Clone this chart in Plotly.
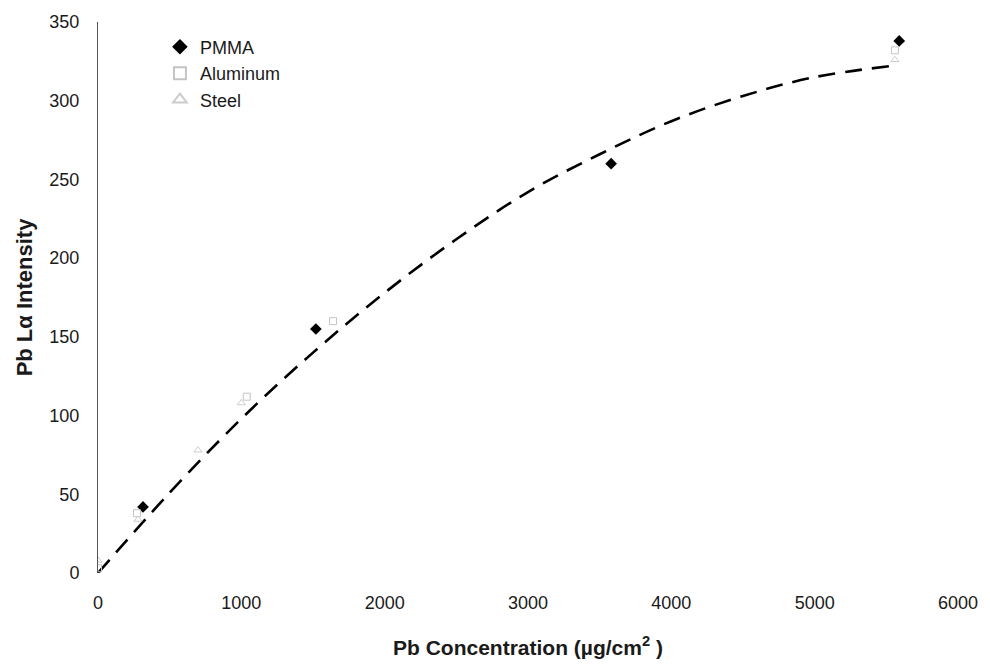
import plotly.graph_objects as go

# Measured points (Pb concentration in µg/cm², Pb Lα intensity)
pmma_x = [314, 1520, 3580, 5590]
pmma_y = [42, 155, 260, 338]

alum_x = [0, 272, 1038, 1640, 5560]
alum_y = [3, 38, 112, 160, 332]

steel_x = [0, 279, 697, 1000, 5560]
steel_y = [8, 34, 78, 108, 326]

# Calibration trend line
fit_x = [0, 500, 1000, 1500, 2000, 2500, 3000, 3500, 4000, 4500, 5000, 5530]
fit_y = [0, 51, 98, 140, 178, 212, 242, 266, 287, 303, 315, 322]

x_ticks = [0, 1000, 2000, 3000, 4000, 5000, 6000]
y_ticks = [0, 50, 100, 150, 200, 250, 300, 350]

font = "Liberation Sans, Arial, sans-serif"

fig = go.Figure()
fig.add_trace(go.Scatter(
    x=fit_x, y=fit_y, mode="lines", line_shape="spline", showlegend=False,
    line=dict(color="black", width=2.6, dash="17px,10px"), hoverinfo="skip"))
fig.add_trace(go.Scatter(
    x=pmma_x, y=pmma_y, mode="markers", name="PMMA", legendgroup="a",
    marker=dict(symbol="diamond", size=9, color="black")))
fig.add_trace(go.Scatter(
    x=alum_x, y=alum_y, mode="markers", name="Aluminum", legendgroup="b",
    marker=dict(symbol="square-open", size=7, color="#c4c4c4", line=dict(width=1))))
fig.add_trace(go.Scatter(
    x=steel_x, y=steel_y, mode="markers", name="Steel", legendgroup="c",
    marker=dict(symbol="triangle-up-open", size=7, color="#cccccc", line=dict(width=1))))

fig.update_layout(
    width=990, height=668,
    margin=dict(l=98, r=32, t=21, b=91),
    paper_bgcolor="white", plot_bgcolor="white",
    font=dict(family=font, size=18, color="#1a1a1a"),
    legend=dict(x=0.072, y=0.988, xanchor="left", yanchor="top",
                bgcolor="rgba(0,0,0,0)", font=dict(size=18),
                itemsizing="constant", tracegroupgap=0),
)
fig.update_xaxes(
    range=[0, 6000], tickvals=x_ticks, showgrid=False, zeroline=False,
    showline=False, ticks="", ticklabelstandoff=17,
    tickfont=dict(size=18),
    title=dict(text="<b>Pb Concentration (µg/cm<sup>2</sup> )</b>",
               font=dict(size=21), standoff=28))
fig.update_yaxes(
    range=[0, 350], tickvals=y_ticks, showgrid=False, zeroline=False,
    showline=True, linecolor="#555555", linewidth=1, ticks="",
    ticklabelstandoff=14, tickfont=dict(size=18),
    title=dict(text="<b>Pb Lα Intensity</b>", font=dict(size=22), standoff=10))

fig.write_html("out.html")
